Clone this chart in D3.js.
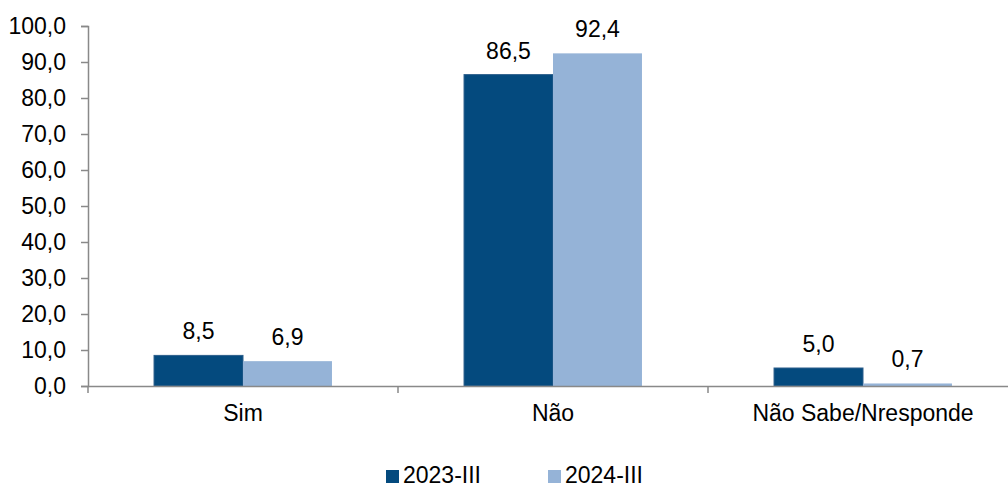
<!DOCTYPE html>
<html>
<head>
<meta charset="utf-8">
<script src="https://cdn.jsdelivr.net/npm/d3@7"></script>
<style>
  body { margin: 0; background: #fff; }
  svg { display: block; font-family: "Liberation Sans", Arial, sans-serif; }
</style>
</head>
<body>
<div class="chart"></div>
<script>
const categories = ["Sim", "Não", "Não Sabe/Nresponde"];
const seriesNames = ["2023-III", "2024-III"];
const values2023 = [8.5, 86.5, 5.0];
const values2024 = [6.9, 92.4, 0.7];
const yTicks = [0, 10, 20, 30, 40, 50, 60, 70, 80, 90, 100];

const colors = ["#044a7e", "#95b3d7"];
const width = 1008, height = 488;
const margin = { left: 88, top: 26, bottom: 102 };
const plotRight = 1018;
const fontSize = 23;

const fmt = v => v.toFixed(1).replace(".", ",");

const svg = d3.select(".chart").append("svg")
    .attr("width", width)
    .attr("height", height);

const x = d3.scaleBand()
    .domain(categories)
    .range([margin.left, plotRight])
    .paddingInner(0.426)
    .paddingOuter(0.213);

const xs = d3.scaleBand()
    .domain(seriesNames)
    .range([0, x.bandwidth()]);

const y = d3.scaleLinear()
    .domain([0, 100])
    .range([height - margin.bottom, margin.top]);

const data = categories.map((c, i) => ({
    cat: c,
    vals: [values2023[i], values2024[i]]
}));

// bars
const groups = svg.selectAll("g.cat")
    .data(data)
    .join("g")
    .attr("class", "cat")
    .attr("transform", d => `translate(${x(d.cat)},0)`);

groups.selectAll("rect")
    .data(d => d.vals.map((v, j) => ({ v, s: seriesNames[j], j })))
    .join("rect")
    .attr("x", d => xs(d.s))
    .attr("y", d => y(d.v))
    .attr("width", xs.bandwidth())
    .attr("height", d => y(0) - y(d.v))
    .attr("fill", d => colors[d.j])
    .attr("stroke", d => d.j === 0 ? "#2d5f8c" : "none")
    .attr("stroke-width", 1);

groups.selectAll("text")
    .data(d => d.vals.map((v, j) => ({ v, s: seriesNames[j] })))
    .join("text")
    .attr("x", d => xs(d.s) + xs.bandwidth() / 2)
    .attr("y", d => y(d.v) - 16)
    .attr("text-anchor", "middle")
    .attr("font-size", fontSize)
    .attr("fill", "#000")
    .text(d => fmt(d.v));

// y axis
const yAxis = svg.append("g")
    .attr("transform", `translate(${margin.left},0)`)
    .call(d3.axisLeft(y).tickValues(yTicks).tickSize(7).tickPadding(15).tickFormat(fmt));

yAxis.select(".domain").attr("stroke", "#898989").attr("stroke-width", 1.5);
yAxis.selectAll(".tick line").attr("stroke", "#898989").attr("stroke-width", 1.5);
yAxis.selectAll(".tick text")
    .attr("font-size", fontSize)
    .attr("fill", "#000")
    .attr("font-family", "Liberation Sans, Arial, sans-serif");

// x axis
const xAxis = svg.append("g")
    .attr("transform", `translate(0,${y(0)})`)
    .call(d3.axisBottom(x).tickSize(0).tickPadding(19));

xAxis.select(".domain").attr("stroke", "#898989").attr("stroke-width", 1.5);
xAxis.selectAll(".tick text")
    .attr("font-size", fontSize)
    .attr("fill", "#000")
    .attr("font-family", "Liberation Sans, Arial, sans-serif");

const boundaries = [margin.left, ...categories.map(c => x(c) - x.step() * x.paddingInner() / 2).slice(1), plotRight];
xAxis.selectAll("line.sep")
    .data(boundaries)
    .join("line")
    .attr("class", "sep")
    .attr("x1", d => d).attr("x2", d => d)
    .attr("y1", 0).attr("y2", 7)
    .attr("stroke", "#898989")
    .attr("stroke-width", 1.5);

// legend
const legendX = [386, 548];
const legend = svg.selectAll("g.legend")
    .data(seriesNames)
    .join("g")
    .attr("class", "legend")
    .attr("transform", (d, i) => `translate(${legendX[i]},470)`);

legend.append("rect")
    .attr("width", 13)
    .attr("height", 13)
    .attr("fill", (d, i) => colors[i]);

legend.append("text")
    .attr("x", 17)
    .attr("y", 13)
    .attr("font-size", fontSize)
    .attr("fill", "#000")
    .text(d => d);
</script>
</body>
</html>
